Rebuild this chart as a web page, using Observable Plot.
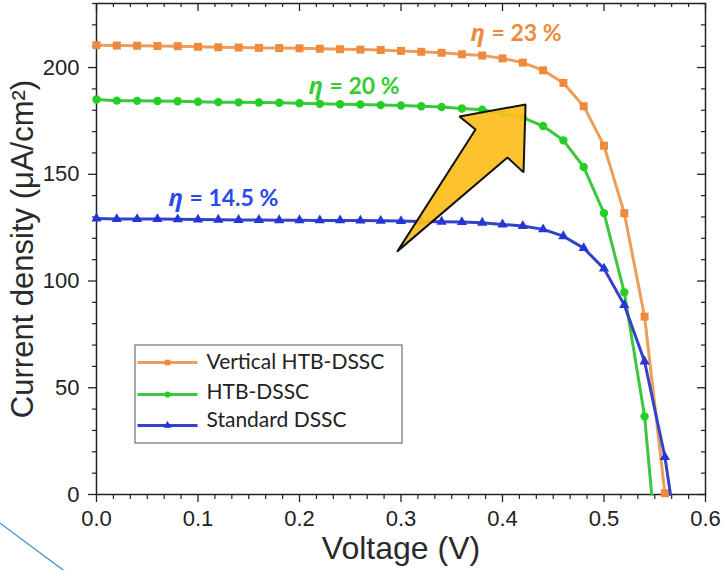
<!DOCTYPE html>
<html><head><meta charset="utf-8">
<script src="https://cdn.jsdelivr.net/npm/d3@7"></script>
<script src="https://cdn.jsdelivr.net/npm/@observablehq/plot@0.6"></script>
<style>body{margin:0;background:#fff}</style>
</head><body><div id="chart"></div>
<script>
// ---- data ----
const voltage = [0.00,0.02,0.04,0.06,0.08,0.10,0.12,0.14,0.16,0.18,0.20,0.22,0.24,0.26,0.28,0.30,0.32,0.34,0.36,0.38,0.40,0.42,0.44,0.46,0.48,0.50,0.52,0.54,0.56];
const verticalHTB = [210.5,210.3,210.2,210.1,210.0,209.7,209.5,209.4,209.2,209.1,209.0,208.8,208.6,208.4,208.2,207.8,207.4,206.9,206.2,205.6,204.3,202.3,198.7,192.8,181.9,163.4,131.8,83.3,0.6];
const htb = [185.0,184.5,184.4,184.3,184.2,184.0,183.8,183.7,183.6,183.5,183.3,183.0,182.8,182.7,182.4,182.2,181.9,181.5,180.8,180.2,178.4,176.5,172.6,165.9,153.4,131.8,94.7,36.6];
const standard = [129.3,129.0,129.0,129.0,128.9,128.8,128.7,128.6,128.6,128.5,128.5,128.4,128.4,128.3,128.2,128.1,127.9,127.8,127.6,127.3,126.5,125.8,124.2,121.0,115.4,105.8,88.8,62.3,17.6];
const vocHTB = 0.547;
const vocStandard = 0.5655;
const seriesNames = ["Vertical HTB-DSSC", "HTB-DSSC", "Standard DSSC"];
const efficiencies = ["= 23 %", "= 20 %", "= 14.5 %"];
const xMajorTicks = [0, 0.1, 0.2, 0.3, 0.4, 0.5, 0.6];
const yMajorTicks = [0, 50, 100, 150, 200];
// decorative arrow outline (V, J)
const arrowV = [0.2966, 0.3734, 0.3576, 0.4227, 0.4207, 0.4049, 0.2966];
const arrowJ = [114.0, 171.0, 177.1, 182.7, 150.9, 157.9, 114.0];

// ---- tables ----
const vertRows = verticalHTB.map((j, i) => ({V: voltage[i], J: j}));
const htbRows = htb.map((j, i) => ({V: voltage[i], J: j}));
const stdRows = standard.map((j, i) => ({V: voltage[i], J: j}));
const arrowRows = arrowV.map((v, i) => ({V: v, J: arrowJ[i]}));
const xMinorTicks = d3.range(0, 37).map(i => i / 60).filter(v => Math.abs(v * 10 - Math.round(v * 10)) > 1e-6);
const yMinorTicks = d3.range(0, 231, 10).filter(v => v % 50 !== 0);

const colors = {
  orange: "#EE8A3C", orangeLine: "#EE9C5A",
  green: "#22CF22", greenLine: "#3CC83C",
  blue: "#2536D8", blueLine: "#3343C8"
};

// pixel -> data helpers for in-plot furniture (legend, annotations)
const W = 724, H = 570, mL = 96, mR = 19, mT = 3, mB = 76;
const xs = d3.scaleLinear([0, 0.6], [mL, W - mR]);
const ys = d3.scaleLinear([0, 230], [H - mB, mT]);
const pxV = px => xs.invert(px), pyJ = py => ys.invert(py);

const legendRows = [
  {name: seriesNames[0], lineY: pyJ(362), textY: pyJ(362), color: colors.orange, line: colors.orangeLine, symbol: "square", r: 4.5},
  {name: seriesNames[1], lineY: pyJ(394), textY: pyJ(392), color: colors.green, line: colors.greenLine, symbol: "circle", r: 4.2},
  {name: seriesNames[2], lineY: pyJ(425), textY: pyJ(420), color: colors.blue, line: colors.blueLine, symbol: "triangle", r: 3.8}
];

const annotations = [
  {V: pxV(470), J: pyJ(33), text: efficiencies[0], color: "#EE8A3A"},
  {V: pxV(308), J: pyJ(86), text: efficiencies[1], color: "#33CC33"},
  {V: pxV(168), J: pyJ(198), text: efficiencies[2], color: "#2A48EE"}
];

const innerW = W - mL - mR, innerH = H - mT - mB;

const chart = Plot.plot({
  width: W, height: H,
  marginLeft: mL, marginRight: mR, marginTop: mT, marginBottom: mB,
  x: {domain: [0, 0.6], label: null},
  y: {domain: [0, 230], label: null},
  style: {fontFamily: "'Liberation Sans', Arial, sans-serif", fontSize: "22px", background: "white", color: "#222", overflow: "visible"},
  marks: [
    // decorative slide line outside the frame
    Plot.line([{V: pxV(0), J: pyJ(523)}, {V: pxV(66), J: pyJ(572)}], {x: "V", y: "J", stroke: "#5B9BD5", strokeWidth: 1.5}),
    // axes
    Plot.axisX(xMajorTicks, {tickSize: 8, tickPadding: 8, tickFormat: d3.format(".1f"), fontSize: 22, label: null, strokeWidth: 1.3}),
    Plot.axisX(xMinorTicks, {tickSize: 5, tickFormat: () => "", label: null, strokeWidth: 1.2}),
    Plot.axisY(yMajorTicks, {tickSize: 8, tickPadding: 9, tickFormat: d => String(d), fontSize: 22, label: null, strokeWidth: 1.3}),
    Plot.axisY(yMinorTicks, {tickSize: 4, tickFormat: () => "", label: null, strokeWidth: 1.2}),
    // mirrored inward ticks (top and right)
    Plot.ruleX(xMajorTicks, {insetBottom: innerH - 8, stroke: "#222", strokeWidth: 1.3}),
    Plot.ruleX(xMinorTicks, {insetBottom: innerH - 4, stroke: "#222", strokeWidth: 1.2}),
    Plot.ruleY(yMajorTicks, {insetLeft: innerW - 8, stroke: "#222", strokeWidth: 1.3}),
    Plot.ruleY(yMinorTicks, {insetLeft: innerW - 4, stroke: "#222", strokeWidth: 1.2}),
    Plot.frame({stroke: "#222", strokeWidth: 1.5}),
    // axis titles
    Plot.text(["Voltage (V)"], {frameAnchor: "bottom", dy: 54, fontSize: 32, fill: "#2a2a2a", textAnchor: "middle", lineAnchor: "middle"}),
    Plot.text(["Current density (μA/cm²)"], {frameAnchor: "left", dx: -73, rotate: -90, fontSize: 31, fill: "#2a2a2a", textAnchor: "middle", lineAnchor: "middle"}),
    // curves
    Plot.line(vertRows, {x: "V", y: "J", stroke: colors.orangeLine, strokeWidth: 3}),
    Plot.dot(vertRows, {x: "V", y: "J", symbol: "square", r: 4.5, fill: colors.orange}),
    Plot.line([...htbRows, {V: vocHTB, J: 0}], {x: "V", y: "J", stroke: colors.greenLine, strokeWidth: 3}),
    Plot.dot(htbRows, {x: "V", y: "J", symbol: "circle", r: 4.2, fill: colors.green}),
    Plot.line([...stdRows, {V: vocStandard, J: 0}], {x: "V", y: "J", stroke: colors.blueLine, strokeWidth: 3}),
    Plot.dot(stdRows, {x: "V", y: "J", symbol: "triangle", r: 3.8, fill: colors.blue}),
    // legend
    Plot.rect([{}], {x1: pxV(135), x2: pxV(402), y1: pyJ(443), y2: pyJ(345), fill: "none", stroke: "#555", strokeWidth: 1}),
    Plot.link(legendRows, {x1: () => pxV(137), x2: () => pxV(197), y1: "lineY", y2: "lineY", stroke: "line", strokeWidth: 3}),
    Plot.dot(legendRows, {x: () => pxV(167), y: "lineY", symbol: "symbol", r: "r", fill: "color"}),
    Plot.text(legendRows, {x: () => pxV(206), y: "textY", text: "name", textAnchor: "start", fontSize: 21, fontFamily: "Lato, 'Open Sans', sans-serif", fill: "#222"}),
    // efficiency annotations
    Plot.text(annotations, {x: "V", y: "J", text: () => "η", textAnchor: "start", fontSize: 24, fontWeight: "bold", fontStyle: "italic", fontFamily: "'Open Sans', Lato, sans-serif", fill: "color"}),
    Plot.text(annotations, {x: "V", y: "J", text: "text", dx: 21, textAnchor: "start", fontSize: 23, fontWeight: "bold", fontFamily: "Lato, 'Open Sans', sans-serif", fill: "color"}),
    // big arrow
    Plot.line(arrowRows, {x: "V", y: "J", fill: "#FDBE1E", fillOpacity: 0.93, stroke: "#111", strokeWidth: 2, strokeLinejoin: "miter"})
  ]
});
document.getElementById("chart").appendChild(chart);
</script>
</body></html>
